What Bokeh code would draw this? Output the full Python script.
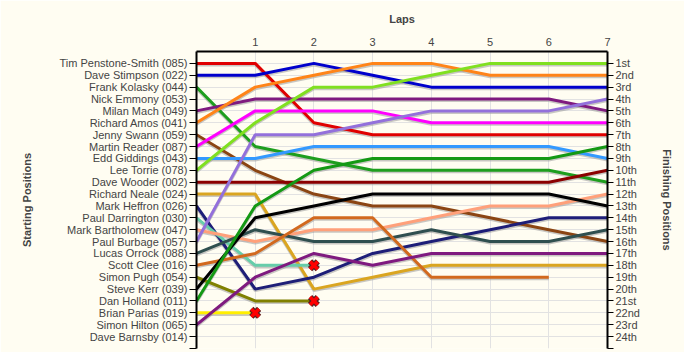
from bokeh.plotting import figure
from bokeh.models import Range1d, LinearAxis, FixedTicker, ColumnDataSource
from bokeh.embed import file_html
from bokeh.resources import INLINE

# ---- data -------------------------------------------------------------
laps = [0, 1, 2, 3, 4, 5, 6, 7]

drivers = [
    "Tim Penstone-Smith (085)", "Dave Stimpson (022)", "Frank Kolasky (044)",
    "Nick Emmony (053)", "Milan Mach (049)", "Richard Amos (041)",
    "Jenny Swann (059)", "Martin Reader (087)", "Edd Giddings (043)",
    "Lee Torrie (078)", "Dave Wooder (002)", "Richard Neale (024)",
    "Mark Heffron (026)", "Paul Darrington (030)", "Mark Bartholomew (047)",
    "Paul Burbage (057)", "Lucas Orrock (088)", "Scott Clee (016)",
    "Simon Pugh (054)", "Steve Kerr (039)", "Dan Holland (011)",
    "Brian Parias (019)", "Simon Hilton (065)", "Dave Barnsby (014)",
]

colors = [
    "#E00000", "#0000CC", "#1E9E1E", "#BBBBBB", "#7F1A7F", "#FF8418",
    "#8B4513", "#FF00FF", "#3399FF", "#80E020", "#8B0000", "#DAA520",
    "#1E1E78", "#66CDAA", "#FFA07A", "#9370DB", "#2F4F4F", "#D2691E",
    "#808000", "#000000", "#149914", "#FFEE00", "#7F1A7F", "#BBBBBB",
]

# position after each lap (lap 0 = grid); shorter list = retired
positions = [
    [1, 1, 6, 7, 7, 7, 7, 7],          # Tim Penstone-Smith
    [2, 2, 1, 2, 3, 3, 3, 3],          # Dave Stimpson
    [3, 8, 9, 10, 10, 10, 10, 11],     # Frank Kolasky
    [],                                # Nick Emmony
    [5, 4, 4, 4, 4, 4, 4, 5],          # Milan Mach
    [6, 3, 2, 1, 1, 2, 2, 2],          # Richard Amos
    [7, 10, 12, 13, 13, 14, 15, 16],   # Jenny Swann
    [8, 5, 5, 5, 6, 6, 6, 6],          # Martin Reader
    [9, 9, 8, 8, 8, 8, 8, 9],          # Edd Giddings
    [10, 6, 3, 3, 2, 1, 1, 1],         # Lee Torrie
    [11, 11, 11, 11, 11, 11, 11, 10],  # Dave Wooder
    [12, 12, 20, 19, 18, 18, 18, 18],  # Richard Neale
    [13, 20, 19, 17, 16, 15, 14, 14],  # Mark Heffron
    [14, 18, 18],                      # Paul Darrington
    [15, 16, 15, 15, 14, 13, 13, 12],  # Mark Bartholomew
    [16, 7, 7, 6, 5, 5, 5, 4],         # Paul Burbage
    [17, 15, 16, 16, 15, 16, 16, 15],  # Lucas Orrock
    [18, 17, 14, 14, 19, 19, 19],      # Scott Clee
    [19, 21, 21],                      # Simon Pugh
    [20, 14, 13, 12, 12, 12, 12, 13],  # Steve Kerr
    [21, 13, 10, 9, 9, 9, 9, 8],       # Dan Holland
    [22, 22],                          # Brian Parias
    [23, 19, 17, 18, 17, 17, 17, 17],  # Simon Hilton
    [],                                # Dave Barnsby
]

crashed = ["Paul Darrington (030)", "Simon Pugh (054)", "Brian Parias (019)"]

finish_labels = ["1st", "2nd", "3rd"] + [f"{i}th" for i in range(4, 21)] + ["21st", "22nd", "23rd", "24th"]
lap_ticks = [1, 2, 3, 4, 5, 6, 7]

# ---- figure -----------------------------------------------------------
BG = "#FFFDF2"
FONT = "Liberation Sans"
n = len(drivers)

p = figure(width=684, height=352, output_backend="svg", toolbar_location=None,
           title=None, x_axis_location="above",
           x_range=Range1d(0, 7), y_range=Range1d(n + 1, 0),
           min_border_left=196, min_border_right=77, min_border_top=51,
           min_border_bottom=4, background_fill_color=BG, border_fill_color=BG,
           outline_line_color=None)

# top axis (laps)
xa = p.xaxis[0]
xa.ticker = FixedTicker(ticks=lap_ticks)
xa.axis_label = "Laps"
xa.axis_label_text_font = FONT
xa.axis_label_text_font_style = "bold"
xa.axis_label_text_font_size = "11px"
xa.axis_label_standoff = 10
xa.major_label_text_font = FONT
xa.major_label_text_font_size = "11px"
xa.major_label_standoff = 6
xa.major_tick_out = 0
xa.major_tick_in = 0
xa.minor_tick_out = 0
xa.minor_tick_in = 0
xa.axis_line_width = 2
xa.axis_line_color = "black"

# left axis (starting positions)
ya = p.yaxis[0]
ya.ticker = FixedTicker(ticks=list(range(1, n + 2)))
ya.major_label_overrides = {i + 1: drivers[i] for i in range(n)} | {n + 1: ""}
ya.axis_label = "Starting Positions"
ya.axis_label_text_font = FONT
ya.axis_label_text_font_style = "bold"
ya.axis_label_text_font_size = "11px"
ya.axis_label_standoff = 24
ya.major_label_text_font = FONT
ya.major_label_text_font_size = "11px"
ya.major_label_standoff = 2
ya.major_tick_out = 7
ya.major_tick_in = 0
ya.minor_tick_out = 0
ya.minor_tick_in = 0
ya.axis_line_width = 2
ya.axis_line_color = "black"

# right axis (finishing positions)
ra = LinearAxis(ticker=FixedTicker(ticks=list(range(1, n + 2))))
ra.major_label_overrides = {i + 1: finish_labels[i] for i in range(n)} | {n + 1: ""}
ra.axis_label = "Finishing Positions"
ra.axis_label_text_font = FONT
ra.axis_label_text_font_style = "bold"
ra.axis_label_text_font_size = "11px"
ra.axis_label_standoff = 18
ra.major_label_text_font = FONT
ra.major_label_text_font_size = "11px"
ra.major_label_standoff = 2
ra.major_tick_out = 6
ra.major_tick_in = 0
ra.minor_tick_out = 0
ra.minor_tick_in = 0
ra.axis_line_width = 2
ra.axis_line_color = "black"
p.add_layout(ra, "right")

# grid
p.xgrid.ticker = FixedTicker(ticks=lap_ticks)
p.ygrid.ticker = FixedTicker(ticks=list(range(1, n + 2)))
p.xgrid.grid_line_color = "#E2E2E2"
p.ygrid.grid_line_color = "#E2E2E2"

# shadows
for pos in positions:
    if not pos:
        continue
    src = ColumnDataSource(dict(x=laps[:len(pos)], y=[v + 0.13 for v in pos]))
    p.line("x", "y", source=src, line_color="#9A9A9A", line_alpha=0.55, line_width=3)

# lines
for pos, col in zip(positions, colors):
    if not pos:
        continue
    src = ColumnDataSource(dict(x=laps[:len(pos)], y=pos))
    p.line("x", "y", source=src, line_color=col, line_width=3)

# crash markers
cx, cy = [], []
for name in crashed:
    pos = positions[drivers.index(name)]
    cx.append(laps[len(pos) - 1])
    cy.append(pos[-1])
p.scatter(cx, cy, marker="x", size=11, line_width=6, line_color="#5A2020")
p.scatter(cx, cy, marker="x", size=11, line_width=3.5, line_color="#FF0000")

open("out.html", "w").write(file_html(p, INLINE))
